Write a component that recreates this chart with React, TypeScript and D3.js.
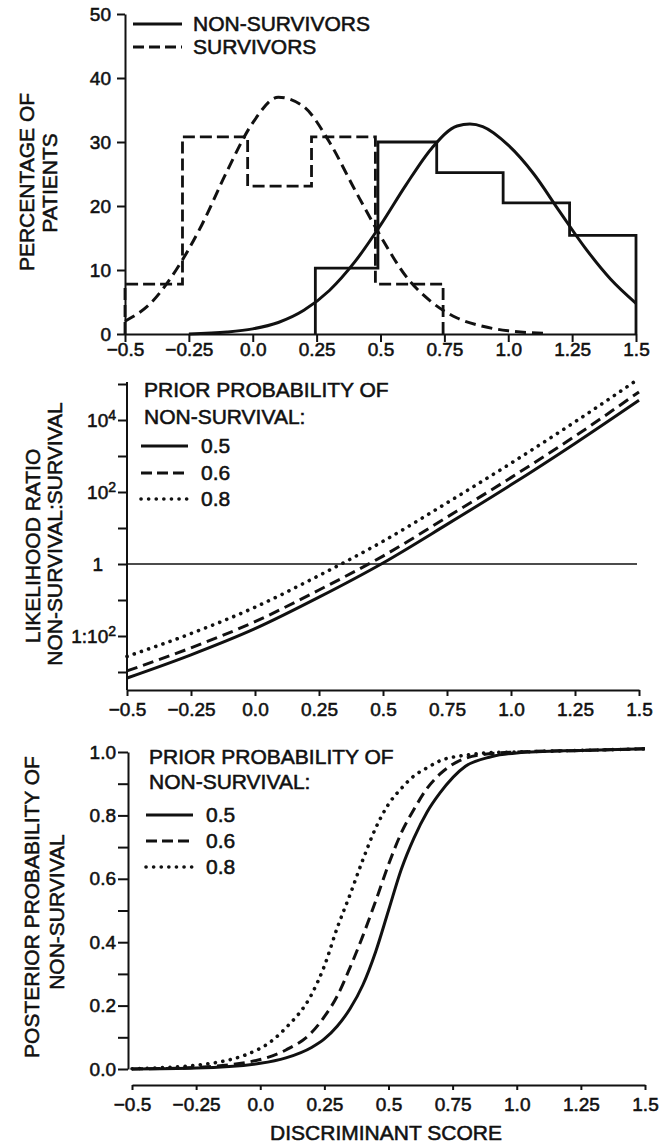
import React, { useRef, useEffect } from "react";
import * as d3 from "d3";

// shared x axis (discriminant score)
const scoreTicks = [-0.5, -0.25, 0, 0.25, 0.5, 0.75, 1.0, 1.25, 1.5];
const scoreLabels = ["−0.5", "−0.25", "0.0", "0.25", "0.5", "0.75", "1.0", "1.25", "1.5"];

// top panel: histograms (% of patients)
const survivorEdges = [-0.5, -0.275, -0.02, 0.23, 0.48, 0.745];
const survivorPct = [7.8, 30.8, 23.1, 30.8, 7.8];
const nonSurvivorEdges = [0.245, 0.49, 0.72, 0.98, 1.24, 1.5];
const nonSurvivorPct = [10.3, 30, 25.2, 20.5, 15.4];

// top panel: fitted distributions
const survivorCurveX = [-0.5, -0.4, -0.3, -0.2, -0.1, 0, 0.1, 0.2, 0.3, 0.4, 0.5, 0.6, 0.7, 0.8, 0.9, 1.0, 1.14];
const survivorCurveY = [2, 4.8, 10, 17, 25.5, 33, 37, 35.5, 30, 22.5, 15.3, 9, 5, 2.5, 1.2, 0.5, 0.1];
const nonSurvivorCurveX = [-0.25, -0.1, 0, 0.1, 0.2, 0.3, 0.4, 0.5, 0.6, 0.7, 0.8, 0.85, 0.9, 1.0, 1.1, 1.2, 1.3, 1.4, 1.5];
const nonSurvivorCurveY = [0, 0.3, 0.8, 1.8, 3.7, 6.8, 11.3, 17, 23.3, 29, 32.5, 32.8, 32.4, 29.5, 25, 19.2, 13.5, 8.6, 4.8];
const pctTicks = [0, 10, 20, 30, 40, 50];

// middle panel: likelihood ratio (log scale)
const lrX = [-0.5, -0.25, 0, 0.25, 0.5, 0.75, 1.0, 1.25, 1.5];
const lrPrior05 = [6.8e-4, 3.0e-3, 1.6e-2, 0.12, 1.07, 12.6, 158, 2240, 35500];
const lrPrior06 = [1.07e-3, 4.7e-3, 2.5e-2, 0.19, 1.66, 20, 251, 3550, 60300];
const lrPrior08 = [2.7e-3, 1.17e-2, 6.3e-2, 0.48, 4.27, 50, 631, 8900, 141000];
const lrAllTicks = [1e-3, 1e-2, 1e-1, 1, 10, 1e2, 1e3, 1e4, 1e5];
const lrLabelTicks = [1e-2, 1, 1e2, 1e4];
const lrLabelBase = ["1:10", "1", "10", "10"];
const lrLabelSup = ["2", "", "2", "4"];

// bottom panel: posterior probability
const postX = [-0.5, -0.25, 0, 0.1, 0.2, 0.25, 0.3, 0.35, 0.4, 0.45, 0.5, 0.55, 0.6, 0.65, 0.7, 0.8, 0.9, 1.0, 1.25, 1.5];
const postPrior05 = [0, 0.003, 0.018, 0.035, 0.068, 0.095, 0.135, 0.19, 0.265, 0.37, 0.5, 0.63, 0.73, 0.81, 0.87, 0.955, 0.985, 0.997, 1.005, 1.01];
const postPrior06 = [0, 0.005, 0.03, 0.06, 0.115, 0.165, 0.23, 0.32, 0.42, 0.53, 0.645, 0.745, 0.82, 0.885, 0.93, 0.98, 0.995, 1.0, 1.005, 1.01];
const postPrior08 = [0.001, 0.012, 0.065, 0.13, 0.235, 0.325, 0.445, 0.55, 0.66, 0.76, 0.835, 0.885, 0.925, 0.95, 0.972, 0.99, 0.998, 1.0, 1.005, 1.01];
const postTicks = [0, 0.2, 0.4, 0.6, 0.8, 1.0];
const postMinorTicks = [0.1, 0.3, 0.5, 0.7, 0.9];

const priorLabels = ["0.5", "0.6", "0.8"];

const INK = "#111";
const FONT = "'Liberation Sans', Arial, sans-serif";
const DASH = "11 6";
const DOT = "0.1 7.5";
const TXT = 21;
const TICK_TXT = 19;

const App = () => {
  const svgRef = useRef(null);

  useEffect(() => {
    const svg = d3.select(svgRef.current);
    svg.selectAll("*").remove();
    const root = svg.append("g").attr("font-family", FONT).attr("fill", INK);

    // heavier lettering, like the printed figure
    const ink = (sel) => sel.attr("stroke", INK).attr("stroke-width", 0.55);

    const styleAxis = (sel, size) => {
      sel.attr("font-family", null).attr("font-size", null);
      sel.select(".domain").attr("stroke", INK).attr("stroke-width", 2);
      sel.selectAll(".tick line").attr("stroke", INK).attr("stroke-width", 2);
      sel.selectAll(".tick text").attr("fill", INK).style("font-size", size + "px").call(ink);
    };

    const addTitle = (lines) => {
      lines.forEach(([txt, cx, cy]) => {
        root.append("text")
          .attr("transform", `translate(${cx},${cy}) rotate(-90)`)
          .attr("text-anchor", "middle")
          .attr("dy", "0.35em")
          .style("font-size", TXT + "px")
          .call(ink)
          .text(txt);
      });
    };

    const pathLine = (xs, ys, x, y, curve) =>
      d3.line().x((d) => x(d[0])).y((d) => y(d[1])).curve(curve)(xs.map((v, i) => [v, ys[i]]));

    const styles = [
      { dash: null, w: 3, cap: "butt" },
      { dash: DASH, w: 3, cap: "butt" },
      { dash: DOT, w: 3.6, cap: "round" },
    ];

    // ---------- top panel ----------
    const xTop = d3.scaleLinear().domain([-0.5, 1.5]).range([125, 636]);
    const yTop = d3.scaleLinear().domain([0, 50]).range([334, 14]);

    root.append("g")
      .attr("transform", `translate(0,${yTop(0)})`)
      .call(d3.axisBottom(xTop).tickValues(scoreTicks).tickFormat((d, i) => scoreLabels[i]).tickSize(8).tickSizeOuter(0).tickPadding(1))
      .call((g) => styleAxis(g, TICK_TXT));
    root.append("g")
      .attr("transform", `translate(${xTop(-0.5)},0)`)
      .call(d3.axisLeft(yTop).tickValues(pctTicks).tickSize(8).tickSizeOuter(0).tickPadding(6))
      .call((g) => styleAxis(g, TICK_TXT));

    const stepPts = (edges, vals) => {
      const pts = [[edges[0], 0]];
      vals.forEach((v, i) => { pts.push([edges[i], v]); pts.push([edges[i + 1], v]); });
      pts.push([edges[edges.length - 1], 0]);
      return pts;
    };
    const stepLine = d3.line().x((d) => xTop(d[0])).y((d) => yTop(d[1]));

    root.append("path").attr("d", stepLine(stepPts(nonSurvivorEdges, nonSurvivorPct)))
      .attr("fill", "none").attr("stroke", INK).attr("stroke-width", 2.8);
    root.append("path").attr("d", stepLine(stepPts(survivorEdges, survivorPct)))
      .attr("fill", "none").attr("stroke", INK).attr("stroke-width", 2.8).attr("stroke-dasharray", "12 5");

    root.append("path").attr("d", pathLine(nonSurvivorCurveX, nonSurvivorCurveY, xTop, yTop, d3.curveMonotoneX))
      .attr("fill", "none").attr("stroke", INK).attr("stroke-width", 3);
    root.append("path").attr("d", pathLine(survivorCurveX, survivorCurveY, xTop, yTop, d3.curveMonotoneX))
      .attr("fill", "none").attr("stroke", INK).attr("stroke-width", 3).attr("stroke-dasharray", DASH);

    [["NON-SURVIVORS", null, 24], ["SURVIVORS", "11 5", 47]].forEach(([label, dash, y]) => {
      root.append("line").attr("x1", 133).attr("x2", 182).attr("y1", y).attr("y2", y)
        .attr("stroke", INK).attr("stroke-width", 3).attr("stroke-dasharray", dash);
      root.append("text").attr("x", 193).attr("y", y).attr("dy", "0.35em").style("font-size", TXT + "px").call(ink).text(label);
    });

    addTitle([["PERCENTAGE OF", 27, 182], ["PATIENTS", 50, 183]]);

    // ---------- middle panel ----------
    const xMid = d3.scaleLinear().domain([-0.5, 1.5]).range([127, 639]);
    const yMid = d3.scaleLog().domain([Math.pow(10, -3.5), 1e5]).range([690, 384]);

    root.append("g")
      .attr("transform", `translate(0,690)`)
      .call(d3.axisBottom(xMid).tickValues(scoreTicks).tickFormat((d, i) => scoreLabels[i]).tickSize(6).tickSizeOuter(0).tickPadding(7))
      .call((g) => styleAxis(g, TICK_TXT));
    const yAx = root.append("g")
      .attr("transform", `translate(${xMid(-0.5)},0)`)
      .call(d3.axisLeft(yMid).tickValues(lrAllTicks).tickFormat(() => "").tickSize(9).tickSizeOuter(0))
      .call((g) => styleAxis(g, TICK_TXT));
    yAx.select(".domain").attr("d", `M0,${yMid(1e5) - 2}V690`);
    lrLabelTicks.forEach((v, i) => {
      const t = yAx.append("text")
        .attr("x", lrLabelSup[i] ? -11 : -24)
        .attr("y", yMid(v))
        .attr("dy", "0.38em")
        .attr("text-anchor", "end")
        .attr("fill", INK)
        .style("font-size", TICK_TXT + "px")
        .call(ink);
      t.append("tspan").text(lrLabelBase[i]);
      if (lrLabelSup[i]) {
        t.append("tspan").attr("dy", "-0.55em").style("font-size", "14px").text(lrLabelSup[i]);
      }
    });

    root.append("line").attr("x1", xMid(-0.5)).attr("x2", xMid(1.5) - 2)
      .attr("y1", yMid(1)).attr("y2", yMid(1)).attr("stroke", INK).attr("stroke-width", 1.4);

    [lrPrior05, lrPrior06, lrPrior08].forEach((ys, k) => {
      root.append("path").attr("d", pathLine(lrX, ys, xMid, yMid, d3.curveMonotoneX))
        .attr("fill", "none").attr("stroke", INK).attr("stroke-width", styles[k].w)
        .attr("stroke-dasharray", styles[k].dash).attr("stroke-linecap", styles[k].cap);
    });

    const drawPriorLegend = (x0, yHead, yRows) => {
      root.append("text").attr("x", x0 + 3).attr("y", yHead[0]).attr("dy", "0.35em").style("font-size", TXT + "px").call(ink).text("PRIOR PROBABILITY OF");
      root.append("text").attr("x", x0 + 3).attr("y", yHead[1]).attr("dy", "0.35em").style("font-size", TXT + "px").call(ink).text("NON-SURVIVAL:");
      yRows.forEach((y, k) => {
        root.append("line").attr("x1", x0).attr("x2", x0 + 47).attr("y1", y).attr("y2", y)
          .attr("stroke", INK).attr("stroke-width", styles[k].w)
          .attr("stroke-dasharray", k === 1 ? "11 5" : styles[k].dash).attr("stroke-linecap", styles[k].cap);
        root.append("text").attr("x", x0 + 60).attr("y", y).attr("dy", "0.35em").style("font-size", TXT + "px").call(ink).text(priorLabels[k]);
      });
    };
    drawPriorLegend(141, [390, 417], [446, 473, 499]);

    addTitle([["LIKELIHOOD RATIO", 33, 546], ["NON-SURVIVAL:SURVIVAL", 55, 534]]);

    // ---------- bottom panel ----------
    const xBot = d3.scaleLinear().domain([-0.5, 1.5]).range([132, 645]);
    const yBot = d3.scaleLinear().domain([0, 1]).range([1069, 752]);

    root.append("g")
      .attr("transform", `translate(0,1085)`)
      .call(d3.axisBottom(xBot).tickValues(scoreTicks).tickFormat((d, i) => scoreLabels[i]).tickSize(5).tickSizeOuter(0).tickPadding(8))
      .call((g) => styleAxis(g, TICK_TXT));
    root.append("g")
      .attr("transform", `translate(128,0)`)
      .call(d3.axisLeft(yBot).tickValues(postTicks.concat(postMinorTicks)).tickFormat((d) => (postTicks.includes(d) ? d3.format(".1f")(d) : "")).tickSize(10).tickSizeOuter(0).tickPadding(2))
      .call((g) => styleAxis(g, TICK_TXT));

    [postPrior05, postPrior06, postPrior08].forEach((ys, k) => {
      root.append("path").attr("d", pathLine(postX, ys, xBot, yBot, d3.curveMonotoneX))
        .attr("fill", "none").attr("stroke", INK).attr("stroke-width", styles[k].w)
        .attr("stroke-dasharray", styles[k].dash).attr("stroke-linecap", styles[k].cap);
    });

    drawPriorLegend(146, [757, 782], [815, 841, 867]);

    addTitle([["POSTERIOR PROBABILITY OF", 32, 907], ["NON-SURVIVAL", 57, 912]]);

    root.append("text").attr("x", 386).attr("y", 1140).attr("text-anchor", "middle")
      .style("font-size", TXT + "px").call(ink).text("DISCRIMINANT SCORE");
  }, []);

  return (
    <svg
      ref={svgRef}
      width={666}
      height={1144}
      style={{ position: "absolute", left: 0, top: 0, background: "#fff" }}
    />
  );
};

export default App;
